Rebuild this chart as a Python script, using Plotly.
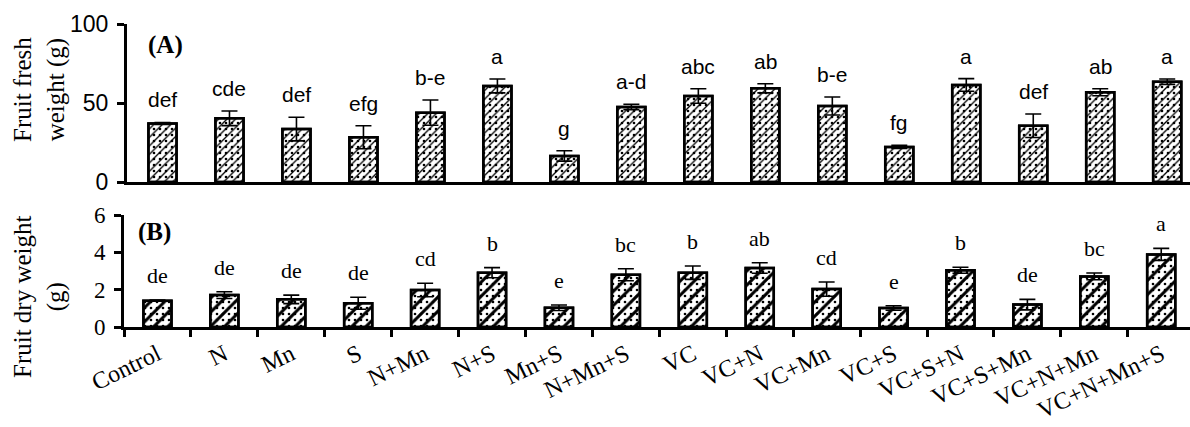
import plotly.graph_objects as go

categories = ["Control", "N", "Mn", "S", "N+Mn", "N+S", "Mn+S", "N+Mn+S", "VC", "VC+N",
              "VC+Mn", "VC+S", "VC+S+N", "VC+S+Mn", "VC+N+Mn", "VC+N+Mn+S"]

fresh_mean = [37.1, 40.3, 33.5, 28.3, 43.9, 60.8, 16.5, 47.5, 54.4, 59.3, 48.1, 22.2, 61.4, 35.6, 56.8, 63.5]
fresh_err = [0.6, 4.6, 7.5, 7.3, 8.0, 4.4, 3.3, 1.7, 4.6, 2.9, 5.7, 1.0, 4.0, 7.4, 2.2, 1.7]
fresh_letters = ["def", "cde", "def", "efg", "b-e", "a", "g", "a-d", "abc", "ab", "b-e", "fg", "a", "def", "ab", "a"]

dry_mean = [1.41, 1.71, 1.48, 1.27, 1.98, 2.91, 1.03, 2.80, 2.91, 3.16, 2.03, 1.02, 3.04, 1.20, 2.71, 3.89]
dry_err = [0.03, 0.18, 0.23, 0.32, 0.36, 0.27, 0.15, 0.32, 0.36, 0.28, 0.38, 0.12, 0.16, 0.28, 0.18, 0.32]
dry_letters = ["de", "de", "de", "de", "cd", "b", "e", "bc", "b", "ab", "cd", "e", "b", "de", "bc", "a"]

SANS = "Liberation Sans, Arial, sans-serif"
SERIF = "Liberation Serif, Times New Roman, serif"
W, H = 1190, 427

fig = go.Figure()

def add_bars(mean, err, xa, ya, size, solid):
    fig.add_trace(go.Bar(
        x=categories, y=mean, xaxis=xa, yaxis=ya, width=0.42,
        marker=dict(color="white", line=dict(color="black", width=2.5),
                    pattern=dict(shape="/", fgcolor="black", bgcolor="white", size=size, solidity=solid)),
        showlegend=False, hoverinfo="skip"))
    fig.add_trace(go.Bar(
        x=categories, y=mean, xaxis=xa, yaxis=ya, width=0.42,
        marker=dict(color="rgba(0,0,0,0)", line=dict(color="black", width=2.5),
                    pattern=dict(shape=".", fgcolor="black", bgcolor="rgba(0,0,0,0)", size=6, solidity=0.15)),
        error_y=dict(type="data", array=err, color="black", thickness=1.6, width=8),
        showlegend=False, hoverinfo="skip"))

add_bars(fresh_mean, fresh_err, "x", "y", 6, 0.22)
add_bars(dry_mean, dry_err, "x2", "y2", 10, 0.3)

annotations = []
for c, m, e, t in zip(categories, fresh_mean, fresh_err, fresh_letters):
    annotations.append(dict(x=c, y=m + e, xref="x", yref="y", text=t, showarrow=False,
                            yanchor="bottom", yshift=9, font=dict(family=SANS, size=21, color="black")))
for c, m, e, t in zip(categories, dry_mean, dry_err, dry_letters):
    annotations.append(dict(x=c, y=m + e, xref="x2", yref="y2", text=t, showarrow=False,
                            yanchor="bottom", yshift=10, font=dict(family=SERIF, size=22, color="black")))

annotations += [
    dict(x=146 / W, y=1 - 45 / H, xref="paper", yref="paper", text="<b>(A)</b>", showarrow=False,
         xanchor="left", yanchor="middle", font=dict(family=SERIF, size=25, color="black")),
    dict(x=136 / W, y=1 - 232 / H, xref="paper", yref="paper", text="<b>(B)</b>", showarrow=False,
         xanchor="left", yanchor="middle", font=dict(family=SERIF, size=25, color="black")),
    dict(x=39 / W, y=1 - 90 / H, xref="paper", yref="paper", text="Fruit fresh<br>weight (g)",
         showarrow=False, textangle=-90, xanchor="center", yanchor="middle",
         font=dict(family=SERIF, size=25, color="black")),
    dict(x=39 / W, y=1 - 297 / H, xref="paper", yref="paper", text="Fruit dry weight<br>(g)",
         showarrow=False, textangle=-90, xanchor="center", yanchor="middle",
         font=dict(family=SERIF, size=25, color="black")),
]

axis_common = dict(showgrid=False, zeroline=False, showline=True, linecolor="black", linewidth=3,
                   automargin=False)

fig.update_layout(
    template="none",
    width=W, height=H, margin=dict(l=0, r=0, t=0, b=0, autoexpand=False),
    paper_bgcolor="white", plot_bgcolor="white", barmode="overlay",
    annotations=annotations,
    xaxis=dict(domain=[127 / W, 1], range=[-0.53, 15.34], showticklabels=False, ticks="",
               anchor="y", **axis_common),
    yaxis=dict(domain=[1 - 182 / H, 1 - 24 / H], range=[0, 100], tickvals=[0, 50, 100],
               ticks="outside", ticklen=7, tickwidth=2.5, tickcolor="black", anchor="x",
               tickfont=dict(family=SANS, size=23, color="black"), ticklabelstandoff=4, **axis_common),
    xaxis2=dict(domain=[124 / W, 1], range=[-0.5, 15.43], ticks="outside", tickson="boundaries",
                ticklen=7, tickwidth=3, tickcolor="black", tickangle=-26, anchor="y2",
                ticklabelstandoff=1,
                tickfont=dict(family=SERIF, size=24, color="black"), **axis_common),
    yaxis2=dict(domain=[1 - 327 / H, 1 - 215 / H], range=[0, 6], tickvals=[0, 2, 4, 6],
                ticks="outside", ticklen=7, tickwidth=2.5, tickcolor="black", anchor="x2",
                tickfont=dict(family=SERIF, size=23, color="black"), ticklabelstandoff=4, **axis_common),
)

fig.write_html("out.html", config={"displayModeBar": False},
               post_script="document.body.style.margin='0';document.body.style.overflow='hidden';")
